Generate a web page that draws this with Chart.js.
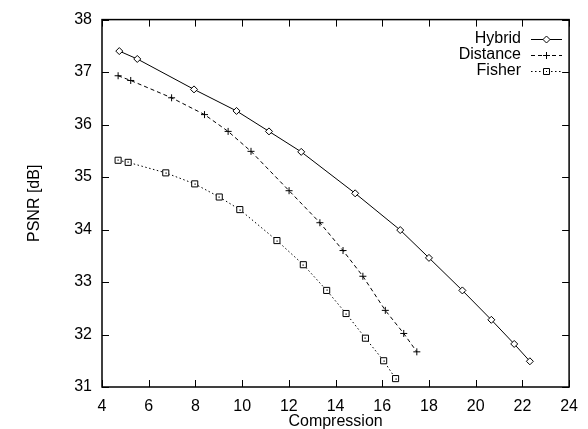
<!DOCTYPE html>
<html>
<head>
<meta charset="utf-8">
<script src="https://cdn.jsdelivr.net/npm/chart.js@4/dist/chart.umd.min.js"></script>
<style>
  html, body { margin: 0; padding: 0; background: #fff; }
  canvas { display: block; }
</style>
</head>
<body>
<canvas id="psnrChart" width="588" height="429"></canvas>
<script>
// values
const hybridX = [4.74, 5.51, 7.94, 9.76, 11.15, 12.53, 14.84, 16.77, 18.0, 19.43, 20.67, 21.65, 22.32];
const hybridY = [37.40, 37.25, 36.67, 36.26, 35.87, 35.48, 34.69, 33.99, 33.46, 32.84, 32.28, 31.82, 31.49];

const distanceX = [4.69, 5.23, 6.98, 8.39, 9.40, 10.38, 12.01, 13.33, 14.32, 15.17, 16.13, 16.92, 17.48];
const distanceY = [36.93, 36.84, 36.51, 36.19, 35.87, 35.49, 34.74, 34.13, 33.60, 33.11, 32.46, 32.02, 31.67];

const fisherX = [4.69, 5.12, 6.73, 7.97, 9.02, 9.90, 11.49, 12.62, 13.62, 14.45, 15.28, 16.06, 16.57];
const fisherY = [35.32, 35.28, 35.08, 34.87, 34.62, 34.38, 33.79, 33.33, 32.84, 32.40, 31.93, 31.50, 31.16];

const seriesNames = ['Hybrid', 'Distance', 'Fisher'];
const xTicks = [4, 6, 8, 10, 12, 14, 16, 18, 20, 22, 24];
const yTicks = [31, 32, 33, 34, 35, 36, 37, 38];

const FONT = "'Liberation Sans', Arial, Helvetica, sans-serif";

function pts(xs, ys) {
    return xs.map(function (x, i) { return { x: x, y: ys[i] }; });
}

/* ================= FRAME + INWARD TICKS ================= */
const framePlugin = {
    id: 'frame',
    afterDraw: function (chart) {
        const ctx = chart.ctx;
        const a = chart.chartArea;
        const xs = chart.scales.x, ys = chart.scales.y;
        const len = 7;
        ctx.save();
        ctx.strokeStyle = '#000';
        ctx.lineWidth = 1;
        ctx.setLineDash([]);
        ctx.beginPath();
        xTicks.forEach(function (v) {
            const px = Math.round(xs.getPixelForValue(v)) + 0.5;
            ctx.moveTo(px, a.bottom); ctx.lineTo(px, a.bottom - len);
            ctx.moveTo(px, a.top); ctx.lineTo(px, a.top + len);
        });
        yTicks.forEach(function (v) {
            const py = Math.round(ys.getPixelForValue(v)) + 0.5;
            ctx.moveTo(a.left, py); ctx.lineTo(a.left + len, py);
            ctx.moveTo(a.right, py); ctx.lineTo(a.right - len, py);
        });
        ctx.stroke();
        ctx.lineWidth = 1.5;
        ctx.strokeRect(a.left, a.top, a.right - a.left, a.bottom - a.top);
        ctx.restore();
    }
};

/* ================= MARKER DETAIL + LEGEND ================= */
function marker(ctx, style, x, y) {
    ctx.beginPath();
    if (style === 'rectRot') {
        ctx.moveTo(x - 3.5, y); ctx.lineTo(x, y - 3.5);
        ctx.lineTo(x + 3.5, y); ctx.lineTo(x, y + 3.5); ctx.closePath();
        ctx.fill(); ctx.stroke();
    } else if (style === 'cross') {
        ctx.moveTo(x - 3.5, y); ctx.lineTo(x + 3.5, y);
        ctx.moveTo(x, y - 3.5); ctx.lineTo(x, y + 3.5);
        ctx.stroke();
    } else {
        ctx.rect(x - 3, y - 3, 6, 6);
        ctx.fill(); ctx.stroke();
        ctx.fillStyle = '#000';
        ctx.fillRect(x - 0.5, y - 0.5, 1, 1);
    }
}

const legendPlugin = {
    id: 'gpLegend',
    afterDatasetsDraw: function (chart) {
        const ctx = chart.ctx;
        // little dot inside the square markers
        const meta = chart.getDatasetMeta(2);
        ctx.save();
        ctx.fillStyle = '#000';
        meta.data.forEach(function (p) {
            ctx.fillRect(Math.round(p.x) - 0.5, Math.round(p.y) - 0.5, 1.2, 1.2);
        });
        ctx.restore();
    },
    afterDraw: function (chart) {
        const ctx = chart.ctx;
        const textRight = 521, x0 = 531, x1 = 562;
        const rows = [39, 55, 71];
        ctx.save();
        ctx.font = '16px ' + FONT;
        ctx.textAlign = 'right';
        ctx.textBaseline = 'middle';
        chart.data.datasets.forEach(function (ds, i) {
            const y = rows[i] + 0.5;
            ctx.fillStyle = '#000';
            ctx.fillText(ds.label, textRight, rows[i]);
            ctx.strokeStyle = '#000';
            ctx.lineWidth = 1;
            ctx.setLineDash(ds.borderDash || []);
            ctx.beginPath();
            ctx.moveTo(x0, y); ctx.lineTo(x1, y);
            ctx.stroke();
            ctx.setLineDash([]);
            ctx.fillStyle = '#fff';
            marker(ctx, ds.pointStyle, (x0 + x1) / 2, y);
        });
        ctx.restore();
    }
};

const psnrEl = document.getElementById('psnrChart');
new Chart(psnrEl, {
    type: 'line',
    data: {
        datasets: [{
            label: seriesNames[0],
            data: pts(hybridX, hybridY),
            borderColor: '#000',
            borderWidth: 1,
            pointStyle: 'rectRot',
            pointRadius: 3.5,
            pointBorderWidth: 1,
            pointBorderColor: '#000',
            pointBackgroundColor: '#fff'
        }, {
            label: seriesNames[1],
            data: pts(distanceX, distanceY),
            borderColor: '#000',
            borderWidth: 1,
            borderDash: [4, 3],
            pointStyle: 'cross',
            pointRadius: 3.5,
            pointBorderWidth: 1,
            pointBorderColor: '#000'
        }, {
            label: seriesNames[2],
            data: pts(fisherX, fisherY),
            borderColor: '#000',
            borderWidth: 1,
            borderDash: [1.5, 2.5],
            pointStyle: 'rect',
            pointRadius: 4.3,
            pointBorderWidth: 1,
            pointBorderColor: '#000',
            pointBackgroundColor: '#fff'
        }]
    },
    options: {
        responsive: false,
        animation: false,
        layout: { padding: { top: 15, right: 10, left: 0, bottom: 0 } },
        plugins: {
            legend: { display: false },
            tooltip: { enabled: false }
        },
        scales: {
            x: {
                type: 'linear',
                min: 4,
                max: 24,
                afterFit: function (s) { s.height = 42; },
                afterBuildTicks: function (s) { s.ticks = xTicks.map(function (v) { return { value: v }; }); },
                grid: { display: false, drawTicks: false },
                border: { display: false },
                ticks: { color: '#000', padding: 10, maxRotation: 0, font: { family: FONT, size: 16 } },
                title: {
                    display: true,
                    text: 'Compression',
                    color: '#000',
                    padding: { top: 0, bottom: -1 },
                    font: { family: FONT, size: 16, lineHeight: 1 }
                }
            },
            y: {
                type: 'linear',
                min: 31,
                max: 38,
                afterFit: function (s) { s.width = 102; },
                afterBuildTicks: function (s) { s.ticks = yTicks.map(function (v) { return { value: v }; }); },
                grid: { display: false, drawTicks: false },
                border: { display: false },
                ticks: { color: '#000', padding: 10, font: { family: FONT, size: 16 } },
                title: {
                    display: true,
                    text: 'PSNR [dB]',
                    color: '#000',
                    padding: { top: 27, bottom: 0 },
                    font: { family: FONT, size: 16, lineHeight: 1 }
                }
            }
        }
    },
    plugins: [framePlugin, legendPlugin]
});
</script>
</body>
</html>
